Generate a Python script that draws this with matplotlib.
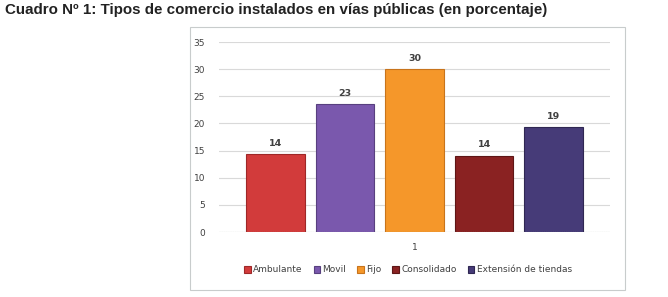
import matplotlib.pyplot as plt
from matplotlib.patches import Rectangle

categories = ["Ambulante", "Movil", "Fijo", "Consolidado", "Extensión de tiendas"]
values = [14.3, 23.5, 30.0, 14.0, 19.3]
labels = ["14", "23", "30", "14", "19"]
colors = ["#d23b3b", "#7a58ad", "#f5972a", "#8a2222", "#463b78"]
edges = ["#9e2828", "#58407f", "#c8741c", "#5e1616", "#2f2752"]
yticks = [0, 5, 10, 15, 20, 25, 30, 35]

W, H = 668, 297
fig = plt.figure(figsize=(W / 100, H / 100), dpi=100)

# chart frame
fig.patches.append(Rectangle((190 / W, 1 - 290 / H), 435 / W, 263 / H,
                             transform=fig.transFigure, fill=False,
                             edgecolor="#c8cccc", linewidth=0.8))

fig.text(5 / W, 1 - 10 / H,
         "Cuadro Nº 1: Tipos de comercio instalados en vías públicas (en porcentaje)",
         family="Liberation Sans", weight="bold", fontsize=10.9, color="#222222",
         ha="left", va="center")

ax = fig.add_axes([219 / W, 65 / H, 391 / W, 190 / H])
x = list(range(len(values)))
bars = ax.bar(x, values, width=0.84, color=colors, edgecolor=edges, linewidth=0.8,
              label=categories, zorder=3)
for xi, v, lab in zip(x, values, labels):
    ax.text(xi, v + 1.2, lab, ha="center", va="bottom", fontsize=6.8,
            color="#404040", weight="bold")

ax.set_xlim(-0.81, 4.81)
ax.set_ylim(0, 35)
ax.set_yticks(yticks)
ax.set_xticks([2])
ax.set_xticklabels(["1"])
ax.tick_params(axis="both", length=0, labelsize=6.5, labelcolor="#404040")
ax.tick_params(axis="y", pad=10)
ax.tick_params(axis="x", pad=8)
ax.grid(axis="y", color="#d9d9d9", linewidth=0.8, zorder=0)
for s in ax.spines.values():
    s.set_visible(False)
ax.axhline(0, color="#b8c8b8", linewidth=0.8, linestyle=(0, (1, 1)), zorder=4)

fig.legend(handles=bars.patches, labels=categories, loc="center",
           bbox_to_anchor=(408 / W, 1 - 270 / H), ncol=5, frameon=False,
           fontsize=6.5, handlelength=0.7, handleheight=0.7, handletextpad=0.3,
           columnspacing=1.2, labelcolor="#404040")

fig.savefig("out.png", dpi=100)
